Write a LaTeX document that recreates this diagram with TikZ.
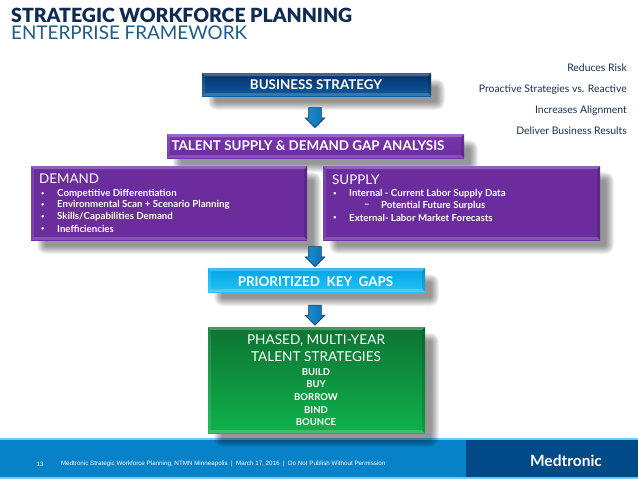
\documentclass[tikz,border=0pt]{standalone}
\usepackage{fontspec}
\setmainfont{Lato}
\newfontfamily\footfont{Liberation Sans}
\usetikzlibrary{shapes.arrows,calc}
\definecolor{navy}{HTML}{0F2B52}
\definecolor{titleblue}{HTML}{1F5C85}
\definecolor{sideink}{HTML}{1C2F4F}
\definecolor{footblue}{HTML}{0782C8}
\definecolor{footdark}{HTML}{004B87}
\definecolor{footline}{HTML}{6FCBF2}
\definecolor{arrowblue}{HTML}{0A6FB5}
\definecolor{arrowlight}{HTML}{1E8FD0}
\definecolor{arrowedge}{HTML}{0B3A66}
\definecolor{purplebox}{HTML}{6B2D9E}
\definecolor{purpletop}{HTML}{7A35AE}
\definecolor{biztop}{HTML}{0A2F66}
\definecolor{bizbot}{HTML}{0B5CA0}
\definecolor{pritop}{HTML}{00A3E6}
\definecolor{pribot}{HTML}{25C3F6}
\definecolor{grntop}{HTML}{0C7432}
\definecolor{grnbot}{HTML}{0FB24C}
\newcommand{\fs}[1]{\fontsize{#1}{#1}\selectfont}
\newcommand{\sbul}{\raisebox{.6pt}{\scalebox{.6}{•}}}
% soft shadow: left, top, right, bottom of the box that casts it
\newcommand{\softshadow}[4]{%
 \foreach \k in {0,...,8}{%
  \fill[black,opacity=.055,rounded corners=\fpeval{9-\k}pt]
   ({#1+10-(4-\k)},{#2+10-(4-\k)}) rectangle ({#3+10+(4-\k)},{#4+10+(4-\k)});
 }}
\tikzset{
 x=1pt,y=-1pt,
 bevelbox/.style={inner sep=0pt,outer sep=0pt,text=white,align=center,
  path picture={
   \coordinate (sw) at (path picture bounding box.south west);
   \coordinate (ne) at (path picture bounding box.north east);
   \coordinate (nw) at (path picture bounding box.north west);
   \coordinate (se) at (path picture bounding box.south east);
   \fill[white,opacity=.25] (nw) -- (ne) -- ($(ne)+(-3,3)$) -- ($(nw)+(3,3)$) -- cycle;
   \fill[white,opacity=.10] (nw) -- (sw) -- ($(sw)+(3,-3)$) -- ($(nw)+(3,3)$) -- cycle;
   \fill[black,opacity=.12] (ne) -- (se) -- ($(se)+(-3,-3)$) -- ($(ne)+(-3,3)$) -- cycle;
   \fill[white,opacity=.18] (sw) -- (se) -- ($(se)+(-3,-3)$) -- ($(sw)+(3,-3)$) -- cycle;
  }},
 flowarrow/.style={single arrow,rotate=-90,draw=arrowedge,line width=.6pt,
  left color=arrowlight,right color=arrowblue,
  single arrow head extend=3.5pt,single arrow tip angle=90,
  inner sep=0pt,outer sep=0pt,minimum height=20pt},
 headtext/.style={font=\bfseries\fs{13.4}},
 sidetext/.style={anchor=east,text=sideink,font=\fs{10.4},inner sep=0pt},
 listtext/.style={anchor=west,text=white,font=\bfseries\fs{9.7},inner sep=0pt},
 greenhead/.style={text=white,font=\fs{13.6},inner sep=0pt},
 greenitem/.style={text=white,font=\bfseries\fs{9.5},inner sep=0pt},
 foottext/.style={anchor=west,text=white,font=\footfont\fs{6.25}},
 purplestyle/.style={bevelbox,top color=purplebox,bottom color=purplebox},
}
\begin{document}
\begin{tikzpicture}
\useasboundingbox (0,0) rectangle (638,479);
\fill[white] (0,0) rectangle (638,479);
% footer
\fill[footline] (0,438) rectangle (638,479);
\fill[footblue] (0,440) rectangle (466,477);
\fill[footdark] (466,440) rectangle (638,477);
\node[foottext] (pg) at (33,464) {13};
\node[foottext] (ft) at (57.5,464) {Medtronic Strategic Workforce Planning, NTMN Minneapolis \ | \ March 17, 2016 \ | \ Do Not Publish Without Permission};
\node[anchor=center,text=white,font=\bfseries\fs{15.5}] (logo) at (566,461) {Medtronic};
% title
\node[anchor=west,text=navy,font=\fontspec{Lato Black}\fs{19.5},inner sep=0pt] (t1) at (11,15.5) {STRATEGIC WORKFORCE PLANNING};
\node[anchor=west,text=titleblue,font=\fs{18.85},inner sep=0pt] (t2) at (11,33) {ENTERPRISE FRAMEWORK};
% side list
\node[sidetext] (s1) at (627,68) {Reduces Risk};
\node[sidetext] (s2) at (627,89.5) {Proactive Strategies vs. Reactive};
\node[sidetext] (s3) at (627,110.5) {Increases Alignment};
\node[sidetext] (s4) at (627,130.5) {Deliver Business Results};
% shadows
\softshadow{202}{73}{431}{96}
\softshadow{167}{134}{464}{158}
\softshadow{31}{166}{307}{240}
\softshadow{323}{166}{600}{240}
\softshadow{208}{268}{425}{292}
\softshadow{208}{327}{425}{433}
% boxes
\node[bevelbox,top color=biztop,bottom color=bizbot,minimum width=229pt,minimum height=23pt] (biz) at (316.5,84.5) {};
\node[bevelbox,top color=purpletop,bottom color=purplebox,minimum width=297pt,minimum height=24pt] (gap) at (315.5,146) {};
\node[purplestyle,minimum width=276pt,minimum height=74pt] (dem) at (169,203) {};
\node[purplestyle,minimum width=277pt,minimum height=74pt] (sup) at (461.5,203) {};
\node[bevelbox,top color=pritop,bottom color=pribot,minimum width=217pt,minimum height=24pt] (pri) at (316.5,280) {};
\node[bevelbox,top color=grntop,bottom color=grnbot,minimum width=217pt,minimum height=106pt] (grn) at (316.5,380) {};
\node[text=white,headtext,inner sep=0pt] (bizt) at (316,84.5) {BUSINESS STRATEGY};
\node[text=white,headtext,inner sep=0pt] (gapt) at (308,146) {TALENT SUPPLY \& DEMAND GAP ANALYSIS};
\node[text=white,headtext,inner sep=0pt] (prit) at (315.5,281.5) {PRIORITIZED \ KEY \ GAPS};
% demand
\node[anchor=west,text=white,headtext,inner sep=0pt] (dh) at (39,179) {\mdseries DEMAND};
\foreach \yy/\txt in {194/{Competitive Differentiation},205/{Environmental Scan + Scenario Planning},217/{Skills\slash Capabilities Demand},229/{Inefficiencies}}{
 \node[listtext] at (41,\yy) {\sbul};
 \node[listtext] at (57,\yy) {\txt};
}
% supply
\node[anchor=west,text=white,headtext,inner sep=0pt] (sh) at (332,180) {\mdseries SUPPLY};
\node[listtext] (sb1) at (333,194) {\sbul};
\node[listtext] (sl1) at (349,194) {Internal - Current Labor Supply Data};
\node[listtext] (sb2) at (364,206) {–};
\node[listtext] (sl2) at (381,206) {Potential Future Surplus};
\node[listtext] (sb3) at (333,218) {\sbul};
\node[listtext] (sl3) at (349,218) {External- Labor Market Forecasts};
% green text
\node[greenhead] (g1) at (316,340) {PHASED, MULTI-YEAR};
\node[greenhead] (g2) at (316,357) {TALENT STRATEGIES};
\node[greenitem] (g3) at (316,372) {BUILD};
\node[greenitem] (g4) at (316,384.5) {BUY};
\node[greenitem] (g5) at (316,397) {BORROW};
\node[greenitem] (g6) at (316,410) {BIND};
\node[greenitem] (g7) at (316,422.5) {BOUNCE};
% arrows
\node[flowarrow] (a1) at (315,114.5) {\rule{1pt}{0pt}\rule[-6pt]{0pt}{12pt}};
\node[flowarrow] (a2) at (315,253.5) {\rule{1pt}{0pt}\rule[-6pt]{0pt}{12pt}};
\node[flowarrow] (a3) at (315,312) {\rule{1pt}{0pt}\rule[-6pt]{0pt}{12pt}};
\end{tikzpicture}
\end{document}
